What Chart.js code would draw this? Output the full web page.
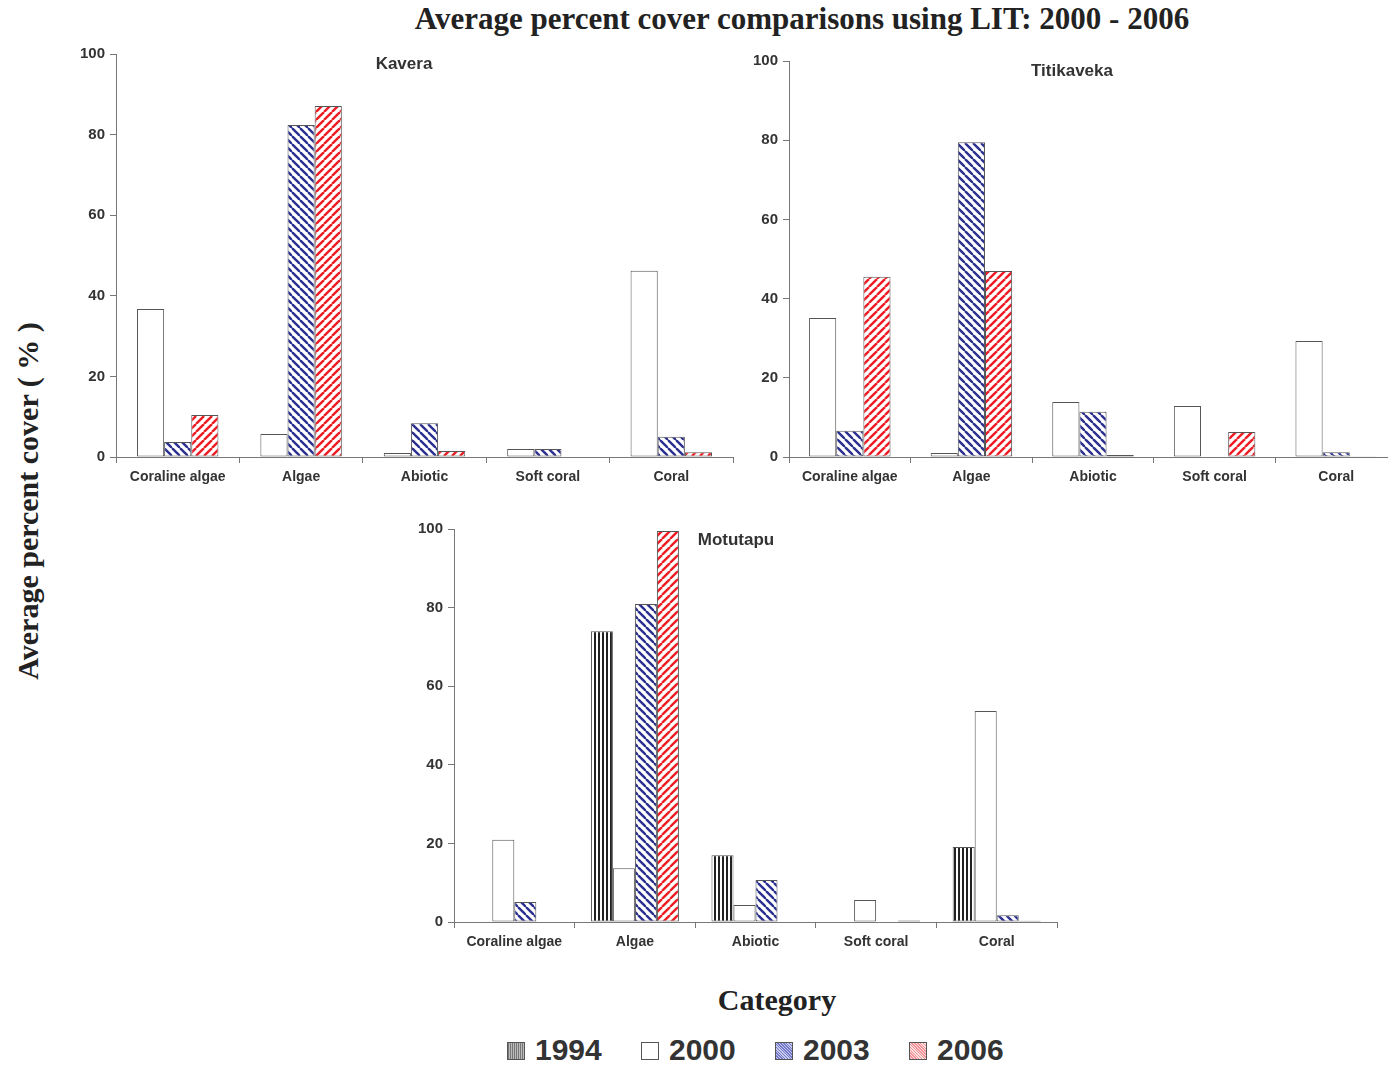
<!DOCTYPE html>
<html>
<head>
<meta charset="utf-8">
<script src="https://cdn.jsdelivr.net/npm/chart.js@4.4.1/dist/chart.umd.min.js"></script>
<style>
  html, body { margin: 0; padding: 0; background: #fff; overflow: hidden; }
  body { width: 1388px; height: 1068px; position: relative; }
  canvas { position: absolute; }
  .txt { position: absolute; transform: translate(-50%, -50%); white-space: nowrap; color: #333; }
  .serif { font-family: "Liberation Serif", "Times New Roman", serif; font-weight: bold; color: #222; }
  .sans { font-family: "Liberation Sans", Arial, sans-serif; font-weight: bold; }
  .legend { position: absolute; left: 507px; top: 1035px; height: 32px; }
  .item { position: absolute; top: 0; height: 32px; }
  .sw { position: absolute; left: 0; top: 7px; width: 16px; height: 16px; border: 1px solid #555; }
  .lab { position: absolute; left: 28px; top: -2px; font: bold 30px "Liberation Sans", Arial, sans-serif; color: #333; }
</style>
</head>
<body>
<div class="txt serif" style="left:802px; top:19px; font-size:31px;">Average percent cover comparisons using LIT: 2000 - 2006</div>
<div class="txt serif" style="left:28px; top:501px; font-size:30px; transform: translate(-50%, -50%) rotate(-90deg);">Average percent cover ( % )</div>
<div class="txt serif" style="left:777px; top:1000px; font-size:30px;">Category</div>

<canvas id="kavera" width="683" height="457" style="left:60px; top:40px;"></canvas>
<canvas id="titi" width="664" height="450" style="left:733px; top:47px;"></canvas>
<canvas id="motu" width="669" height="447" style="left:398px; top:515px;"></canvas>

<div class="txt sans" style="left:404px; top:64px; font-size:17px;">Kavera</div>
<div class="txt sans" style="left:1072px; top:71px; font-size:17px;">Titikaveka</div>
<div class="txt sans" style="left:736px; top:540px; font-size:17px;">Motutapu</div>

<div class="legend">
  <div class="item" style="left:0px;"><div class="sw" style="background: repeating-linear-gradient(90deg, #777 0 1px, #bbb 1px 2px);"></div><div class="lab">1994</div></div>
  <div class="item" style="left:134px;"><div class="sw" style="background:#fff;"></div><div class="lab">2000</div></div>
  <div class="item" style="left:268px;"><div class="sw" style="background: repeating-linear-gradient(45deg, #7378c8 0 1px, #c8caee 1px 2px);"></div><div class="lab">2003</div></div>
  <div class="item" style="left:402px;"><div class="sw" style="background: repeating-linear-gradient(45deg, #f29296 0 1px, #fde0e1 1px 2px);"></div><div class="lab">2006</div></div>
</div>

<script>
"use strict";

// catégories et valeurs
const categories = ["Coraline algae", "Algae", "Abiotic", "Soft coral", "Coral"];
const yTicks = [0, 20, 40, 60, 80, 100];

const kavera2000 = [36.7, 5.7, 1.0, 2.0, 46.2];
const kavera2003 = [3.7, 82.4, 8.4, 2.0, 5.0];
const kavera2006 = [10.4, 87.1, 1.5, 0, 1.2];

const titi2000 = [35.1, 1.0, 13.9, 12.9, 29.3];
const titi2003 = [6.6, 79.5, 11.4, 0, 1.2];
const titi2006 = [45.5, 47.0, 0.5, 6.3, 0.2];

const motu1994 = [0, 74.0, 17.0, 0, 19.1];
const motu2000 = [20.9, 13.7, 4.3, 5.6, 53.7];
const motu2003 = [5.1, 80.9, 10.7, 0, 1.7];
const motu2006 = [0, 99.5, 0, 0.4, 0.3];

// motifs de remplissage (hachures)
function diagPattern(color, down) {
  const size = 8;
  const c = document.createElement("canvas");
  c.width = size; c.height = size;
  const g = c.getContext("2d");
  g.fillStyle = "#fff";
  g.fillRect(0, 0, size, size);
  g.strokeStyle = color;
  g.lineWidth = 2.4;
  for (let k = -1; k <= 1; k++) {
    g.beginPath();
    if (down) {
      g.moveTo(k * size, 0);
      g.lineTo(k * size + size, size);
    } else {
      g.moveTo(k * size, size);
      g.lineTo(k * size + size, 0);
    }
    g.stroke();
  }
  return g.createPattern(c, "repeat");
}

function vertPattern() {
  const c = document.createElement("canvas");
  c.width = 4; c.height = 4;
  const g = c.getContext("2d");
  g.fillStyle = "#fff";
  g.fillRect(0, 0, 4, 4);
  g.fillStyle = "#222";
  g.fillRect(0, 0, 2, 4);
  return g.createPattern(c, "repeat");
}

const fill1994 = vertPattern();
const fill2000 = "#fff";
const fill2003 = diagPattern("#2b2f8f", true);
const fill2006 = diagPattern("#ee1c24", false);

function ds(label, data, fill, catPct) {
  return {
    label: label,
    data: data,
    backgroundColor: fill,
    borderColor: "#555",
    borderWidth: 1,
    borderSkipped: false,
    barPercentage: 1,
    categoryPercentage: catPct
  };
}

const axisColor = "#777";
const tickFont = { family: "'Liberation Sans', Arial, sans-serif", weight: "bold" };

function makePanel(id, datasets, padRight) {
  const ctx = document.getElementById(id).getContext("2d");
  return new Chart(ctx, {
    type: "bar",
    data: { labels: categories, datasets: datasets },
    options: {
      responsive: false,
      animation: false,
      layout: { padding: { top: 14, right: padRight, left: 0, bottom: 0 } },
      plugins: { legend: { display: false }, tooltip: { enabled: false } },
      scales: {
        x: {
          grid: { drawOnChartArea: false, drawTicks: true, tickLength: 6, color: axisColor, offset: true },
          border: { color: axisColor, width: 1 },
          ticks: { color: "#333", font: { ...tickFont, size: 14 }, padding: 6, maxRotation: 0 },
          afterFit: (s) => { s.height = 40; }
        },
        y: {
          min: 0,
          max: 100,
          afterBuildTicks: (s) => { s.ticks = yTicks.map((v) => ({ value: v })); },
          grid: { drawOnChartArea: false, drawTicks: true, tickLength: 6, color: axisColor },
          border: { color: axisColor, width: 1 },
          ticks: { color: "#333", font: { ...tickFont, size: 15 }, padding: 5 },
          afterFit: (s) => { s.width = 56; }
        }
      }
    }
  });
}

makePanel("kavera", [
  ds("2000", kavera2000, fill2000, 0.66),
  ds("2003", kavera2003, fill2003, 0.66),
  ds("2006", kavera2006, fill2006, 0.66)
], 10);

makePanel("titi", [
  ds("2000", titi2000, fill2000, 0.67),
  ds("2003", titi2003, fill2003, 0.67),
  ds("2006", titi2006, fill2006, 0.67)
], 0);

makePanel("motu", [
  ds("1994", motu1994, fill1994, 0.73),
  ds("2000", motu2000, fill2000, 0.73),
  ds("2003", motu2003, fill2003, 0.73),
  ds("2006", motu2006, fill2006, 0.73)
], 10);
</script>
</body>
</html>
